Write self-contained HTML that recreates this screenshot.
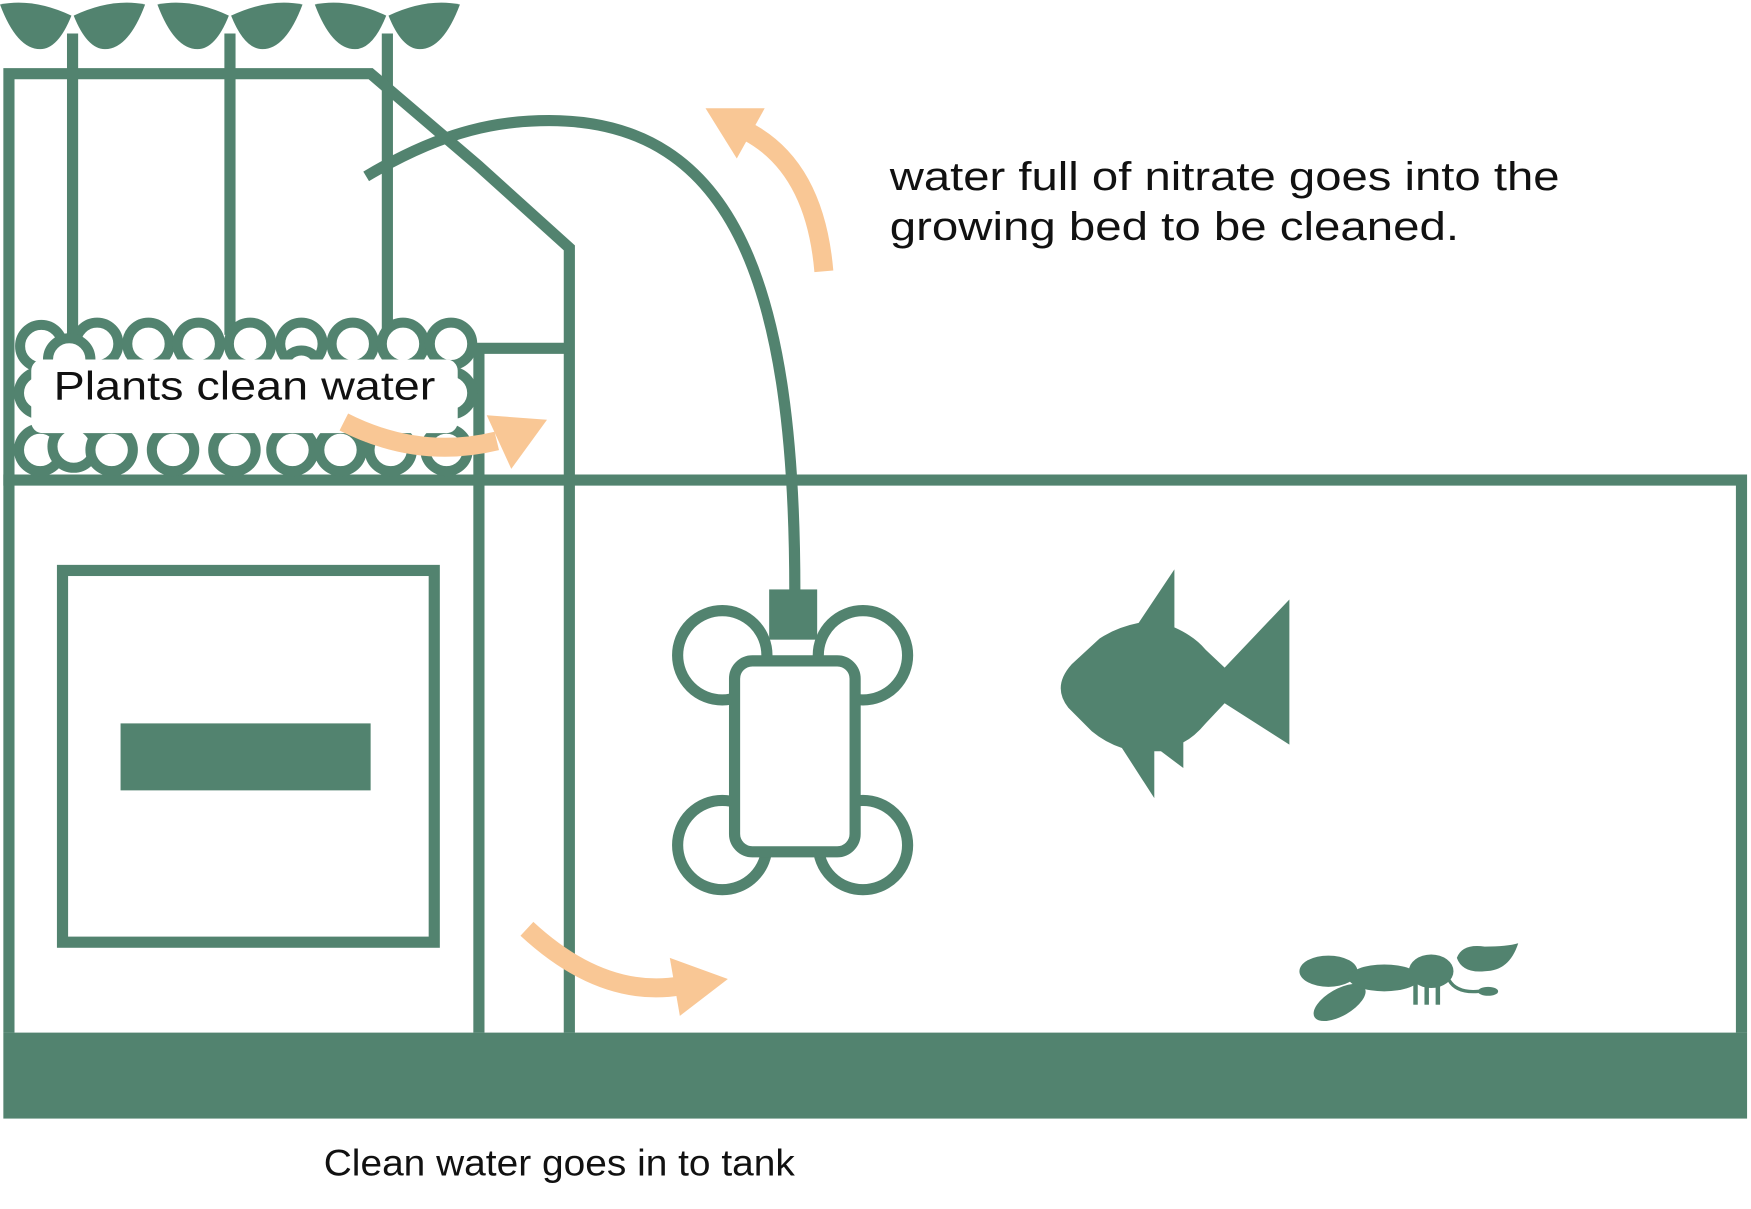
<!DOCTYPE html>
<html><head><meta charset="utf-8"><style>
html,body{margin:0;padding:0;background:#fff;}
svg{display:block;}
text{font-family:"Liberation Sans",sans-serif;fill:#111;}
</style></head><body>
<svg width="1751" height="1209" viewBox="0 0 1568 1083" preserveAspectRatio="xMinYMin meet" xmlns="http://www.w3.org/2000/svg">
<g fill="#52836F">
 <g><path d="M0,4 Q30,-2 64,14 Q52,44 36,44 Q15,44 0,4Z"/><path d="M130,4 Q100,-2 66,14 Q78,44 94,44 Q115,44 130,4Z"/></g>
 <g transform="translate(141,0)"><path d="M0,4 Q30,-2 64,14 Q52,44 36,44 Q15,44 0,4Z"/><path d="M130,4 Q100,-2 66,14 Q78,44 94,44 Q115,44 130,4Z"/></g>
 <g transform="translate(282,0)"><path d="M0,4 Q30,-2 64,14 Q52,44 36,44 Q15,44 0,4Z"/><path d="M130,4 Q100,-2 66,14 Q78,44 94,44 Q115,44 130,4Z"/></g>
 <rect x="3" y="925" width="1562" height="77"/>
 <rect x="108" y="648" width="224" height="60"/>
 <rect x="689" y="528" width="43" height="45"/>
</g>
<g fill="none" stroke="#52836F" stroke-width="10">
 <line x1="65" y1="30" x2="65" y2="300"/>
 <line x1="206" y1="30" x2="206" y2="300"/>
 <line x1="347" y1="30" x2="347" y2="300"/>
 <polyline points="8,925 8,66 332,66 428,148 510,222 510,925"/>
 <polyline points="429,925 429,312 510,312"/>
 <line x1="3" y1="430" x2="1562" y2="430"/>
 <line x1="1560" y1="425" x2="1560" y2="925"/>
 <rect x="56" y="511" width="333" height="333"/>
 <path d="M328,158 C400,115 450,108 492,108 C660,108 712,260 712,530"/>
</g>
<g fill="#fff" stroke="#52836F" stroke-width="9">
 <circle cx="37" cy="310" r="19"/><circle cx="87" cy="308" r="19"/><circle cx="133" cy="308" r="19"/><circle cx="178" cy="308" r="19"/><circle cx="224" cy="308" r="19"/><circle cx="270" cy="308" r="19"/><circle cx="316" cy="308" r="19"/><circle cx="361" cy="308" r="19"/><circle cx="404" cy="308" r="19"/>
 <circle cx="62" cy="322" r="19"/><circle cx="270" cy="330" r="16"/>
 <circle cx="36" cy="352" r="19"/><circle cx="404" cy="352" r="19"/>
 <circle cx="36" cy="403" r="19"/><circle cx="66" cy="400" r="19"/><circle cx="100" cy="403" r="19"/><circle cx="155" cy="403" r="19"/><circle cx="210" cy="403" r="19"/><circle cx="262" cy="403" r="19"/><circle cx="305" cy="403" r="19"/><circle cx="350" cy="403" r="19"/><circle cx="400" cy="403" r="19"/>
</g>
<rect x="28" y="322" width="382" height="66" rx="10" fill="#fff"/>
<text x="48" y="358" font-size="36" textLength="342" lengthAdjust="spacingAndGlyphs">Plants clean water</text>
<g fill="#fff" stroke="#52836F" stroke-width="10">
 <circle cx="647" cy="587" r="40"/><circle cx="773" cy="587" r="40"/>
 <circle cx="647" cy="757" r="40"/><circle cx="773" cy="757" r="40"/>
 <rect x="658" y="592" width="108" height="171" rx="16"/>
</g>
<path fill="#52836F" d="M960,595 L985,572 Q1000,562 1020,558 L1052,510 L1052,562 Q1070,570 1080,582 L1097,598 L1155,537 L1155,667 L1097,630 L1080,648 Q1070,660 1060,665 L1060,688 L1040,673 L1034,673 L1034,715 L1005,670 Q990,665 978,655 L957,634 Q942,615 960,595Z"/>
<g fill="#52836F">
 <ellipse cx="1190" cy="870" rx="26" ry="14"/>
 <ellipse cx="1200" cy="898" rx="26" ry="12" transform="rotate(-30 1200 898)"/>
 <ellipse cx="1240" cy="876" rx="32" ry="12"/>
 <ellipse cx="1282" cy="870" rx="20" ry="15"/>
 <path d="M1305,858 Q1310,845 1330,848 Q1350,848 1360,845 Q1352,870 1330,870 Q1310,872 1305,858Z"/>
 <ellipse cx="1333" cy="888" rx="9" ry="4"/>
 <rect x="1266" y="880" width="4" height="20"/><rect x="1276" y="880" width="4" height="20"/><rect x="1286" y="880" width="4" height="20"/>
</g>
<path d="M1298,878 Q1305,890 1325,888" fill="none" stroke="#52836F" stroke-width="3"/>
<g fill="none" stroke="#F9C795" stroke-width="17">
 <path d="M308,378 Q375,412 445,395"/>
 <path d="M472,832 Q540,895 610,883"/>
 <path d="M738,243 Q730,150 670,118"/>
</g>
<g fill="#F9C795">
 <polygon points="436,372 490,376 458,420"/>
 <polygon points="600,858 652,877 609,910"/>
 <polygon points="632,97 685,97 660,142"/>
</g>
<text x="797" y="170" font-size="36" textLength="600" lengthAdjust="spacingAndGlyphs">water full of nitrate goes into the</text>
<text x="797" y="215" font-size="36" textLength="510" lengthAdjust="spacingAndGlyphs">growing bed to be cleaned.</text>
<text x="290" y="1053" font-size="33" textLength="422" lengthAdjust="spacingAndGlyphs">Clean water goes in to tank</text>
</svg>
</body></html>
